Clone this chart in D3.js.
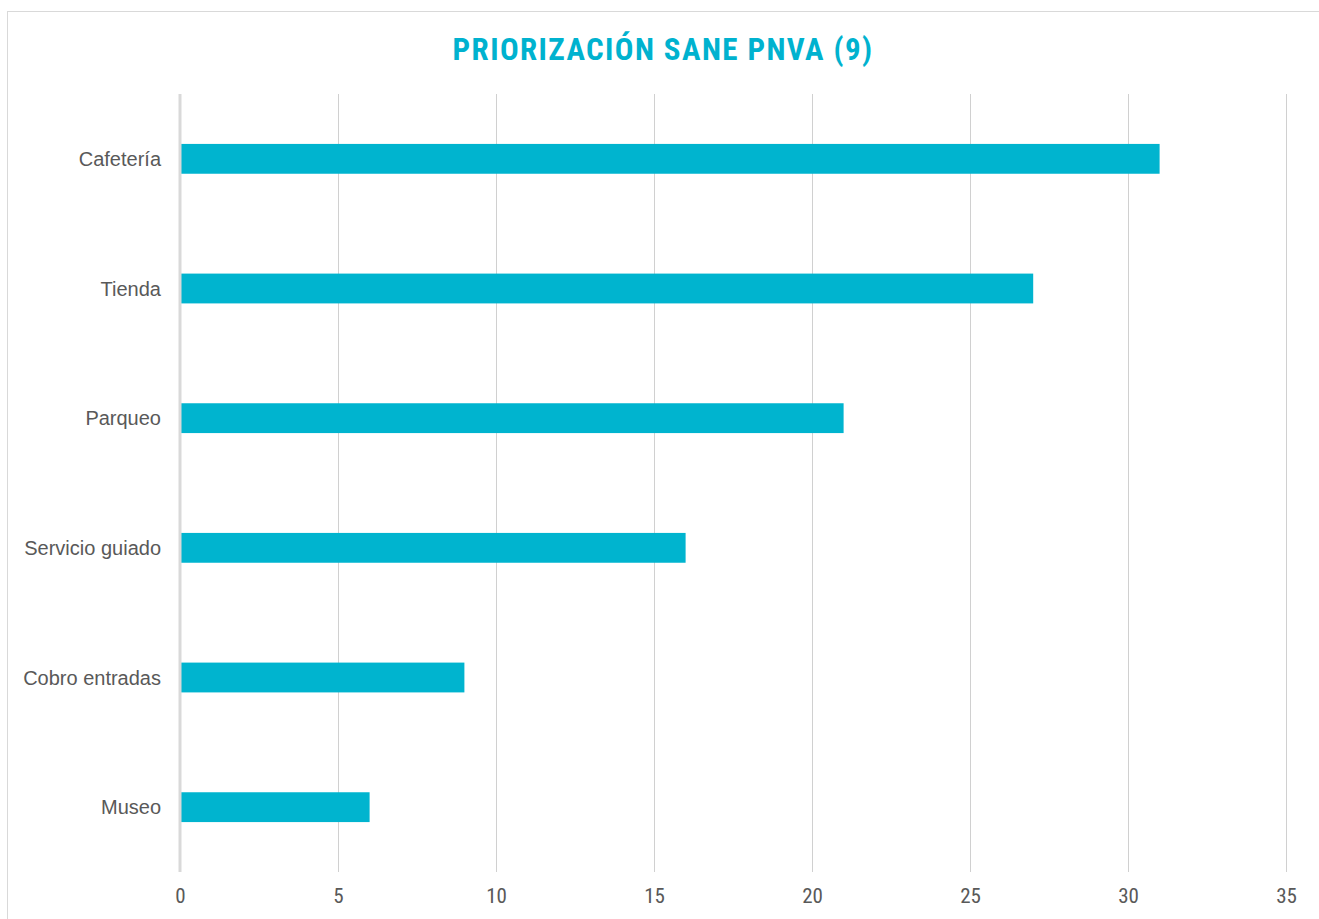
<!DOCTYPE html>
<html><head><meta charset="utf-8">
<script src="https://cdn.jsdelivr.net/npm/d3@7"></script>
<style>html,body{margin:0;padding:0;background:#fff;}svg{display:block;}</style>
</head><body>
<svg id="c" width="1319" height="919"></svg>
<script>
const title = "PRIORIZACIÓN SANE PNVA (9)";
const categories = ["Cafetería","Tienda","Parqueo","Servicio guiado","Cobro entradas","Museo"];
const values = [31,27,21,16,9,6];
const xTicks = [0,5,10,15,20,25,30,35];

const svg = d3.select("#c");
const m = {left:180, right:1286, top:94, bottom:872};
const condensed = "'Roboto Condensed','Liberation Sans Narrow','Arial Narrow',Roboto,sans-serif";

// border
svg.append("rect").attr("x",7.5).attr("y",11.5).attr("width",1400).attr("height",1000)
  .attr("fill","none").attr("stroke","#d9d9d9").attr("stroke-width",1);

svg.append("text").attr("x",663).attr("y",60).attr("text-anchor","middle")
  .attr("font-family",condensed)
  .attr("font-stretch","condensed")
  .attr("font-weight","bold").attr("font-size",31).attr("letter-spacing",1.4)
  .attr("fill","#00b2cf").text(title);

const x = d3.scaleLinear().domain([0,35]).range([m.left, m.right]);
const y = d3.scaleBand().domain(categories).range([m.top, m.bottom]).paddingInner(0.77).paddingOuter(0.385);

// gridlines
svg.append("g").selectAll("line").data(xTicks.filter(d=>d>0)).join("line")
  .attr("x1",d=>Math.round(x(d))+0.5).attr("x2",d=>Math.round(x(d))+0.5)
  .attr("y1",m.top).attr("y2",m.bottom).attr("stroke","#d0d0d0").attr("stroke-width",1);

// x axis labels
const xa = svg.append("g").attr("transform",`translate(0,${m.bottom})`)
  .call(d3.axisBottom(x).tickValues(xTicks).tickSize(0).tickPadding(16));
xa.select(".domain").remove();
xa.selectAll("text").attr("font-family",condensed)
  .attr("font-stretch","condensed").attr("font-size",21).attr("fill","#595959");

// bars
svg.append("g").selectAll("rect").data(values).join("rect")
  .attr("x",x(0)+1).attr("y",(d,i)=>y(categories[i]))
  .attr("width",d=>x(d)-x(0)-1).attr("height",y.bandwidth())
  .attr("fill","#00b4cf");

// y axis line
svg.append("line").attr("x1",x(0)).attr("x2",x(0)).attr("y1",m.top).attr("y2",m.bottom)
  .attr("stroke","#d9d9d9").attr("stroke-width",3);

// y labels
const ya = svg.append("g").attr("transform",`translate(${m.left},0)`)
  .call(d3.axisLeft(y).tickSize(0).tickPadding(19));
ya.select(".domain").remove();
ya.selectAll("text").attr("font-family","'Liberation Sans',Arial,sans-serif")
  .attr("font-size",20).attr("dy","0.36em").attr("fill","#595959");
</script>
</body></html>
